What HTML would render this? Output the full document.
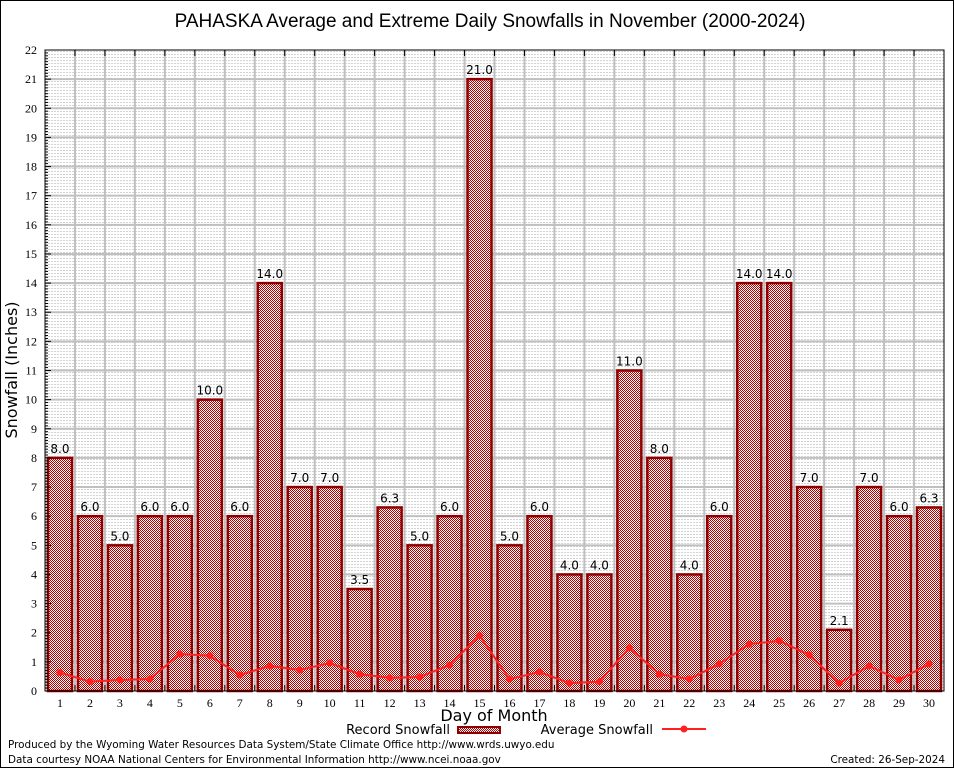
<!DOCTYPE html>
<html><head><meta charset="utf-8"><style>
body{margin:0;background:#fff;}
svg{display:block;font-family:"DejaVu Sans","Liberation Sans",sans-serif;}
</style></head><body>
<svg id="chart" width="954" height="768" viewBox="0 0 954 768">
<defs>
<pattern id="dots" width="3" height="3" patternUnits="userSpaceOnUse"><rect width="3" height="3" fill="#fff"/><rect width="2" height="1" fill="#d4d4d4" shape-rendering="crispEdges"/></pattern>
<pattern id="check" width="2" height="2" patternUnits="userSpaceOnUse"><rect width="2" height="2" fill="#fff"/><rect width="1" height="1" fill="#b00000" shape-rendering="crispEdges"/><rect x="1" y="1" width="1" height="1" fill="#b00000" shape-rendering="crispEdges"/></pattern>
</defs>
<rect x="0.5" y="0.5" width="953" height="767" fill="#fff" stroke="#000"/>
<text x="490" y="27" font-size="19" text-anchor="middle" font-family="Liberation Sans,sans-serif">PAHASKA Average and Extreme Daily Snowfalls in November (2000-2024)</text>
<rect x="45" y="50" width="899" height="641" fill="url(#dots)"/>
<g id="grid"></g>
<g id="bars"></g>
<g id="line"></g>
<g id="axes"></g>
<text x="17" y="370" font-size="16" text-anchor="middle" transform="rotate(-90 17 370)">Snowfall (Inches)</text>
<text x="494" y="721" font-size="16" text-anchor="middle">Day of Month</text>
<g>
<text x="450" y="734" font-size="13" text-anchor="end">Record Snowfall</text>
<rect x="458" y="727" width="42" height="6" fill="url(#check)" stroke="#900000" stroke-width="2"/>
</g>
<g>
<text x="653" y="734" font-size="13" text-anchor="end">Average Snowfall</text>
<line x1="662" y1="729" x2="706" y2="729" stroke="#ff2020" stroke-width="2"/>
<circle cx="684" cy="729" r="3.5" fill="#ff2020"/>
</g>
<text x="8" y="748" font-size="10.4">Produced by the Wyoming Water Resources Data System/State Climate Office http://www.wrds.uwyo.edu</text>
<text x="8" y="763" font-size="10.4">Data courtesy NOAA National Centers for Environmental Information http://www.ncei.noaa.gov</text>
<text x="945" y="763" font-size="10.4" text-anchor="end">Created: 26-Sep-2024</text>
</svg>
<script>
const days=[1,2,3,4,5,6,7,8,9,10,11,12,13,14,15,16,17,18,19,20,21,22,23,24,25,26,27,28,29,30];
const recordValues=[8.0,6.0,5.0,6.0,6.0,10.0,6.0,14.0,7.0,7.0,3.5,6.3,5.0,6.0,21.0,5.0,6.0,4.0,4.0,11.0,8.0,4.0,6.0,14.0,14.0,7.0,2.1,7.0,6.0,6.3];
const averageValues=[0.63,0.32,0.38,0.41,1.27,1.21,0.55,0.86,0.72,0.96,0.58,0.45,0.48,0.89,1.9,0.41,0.65,0.27,0.32,1.48,0.58,0.41,0.93,1.61,1.72,1.24,0.27,0.86,0.38,0.93];
const yTicks=[0,1,2,3,4,5,6,7,8,9,10,11,12,13,14,15,16,17,18,19,20,21,22];
const NS="http://www.w3.org/2000/svg";
const L=45,R=944,T=50,B=691,YMAX=22;
const slot=(R-L)/days.length;
const x=d=>L+slot*(d-0.5);
const y=v=>B-(v/YMAX)*(B-T);
function mk(tag,attrs,parent,txt){const e=document.createElementNS(NS,tag);for(const k in attrs)e.setAttribute(k,attrs[k]);if(txt!==undefined)e.textContent=txt;parent.appendChild(e);return e;}
const grid=document.getElementById('grid'),bars=document.getElementById('bars'),line=document.getElementById('line'),axes=document.getElementById('axes');
yTicks.forEach(t=>{
  if(t>0&&t<YMAX){const g=mk('line',{x1:L,x2:R,y1:y(t),y2:y(t),stroke:'#c0c0c0','stroke-width':2},grid);
  
  }
  const lb=mk('text',{x:L-8,y:y(t)+4,'font-size':12,'text-anchor':'end','font-family':'Liberation Serif,serif'},axes,String(t));
  
  
  mk('line',{x1:L,x2:L+6,y1:y(t),y2:y(t),stroke:'#000'},axes);
  if(t<YMAX){for(let m=1;m<10;m++){mk('line',{x1:L,x2:L+3,y1:y(t+m/10),y2:y(t+m/10),stroke:'#000'},axes);}}
});
for(let i=1;i<days.length;i++){
  const gx=L+slot*i;
  const g=mk('line',{x1:gx,x2:gx,y1:T,y2:B,stroke:'#c0c0c0','stroke-width':2},grid);
  
  
  mk('line',{x1:gx,x2:gx,y1:T,y2:T+6,stroke:'#000'},axes);
  mk('line',{x1:gx,x2:gx,y1:B,y2:B-6,stroke:'#000'},axes);
}
days.forEach((d,i)=>{
  const v=recordValues[i],bw=24;
  const r=mk('rect',{x:x(d)-bw/2,y:y(v),width:bw,height:B-y(v),fill:'url(#check)',stroke:'#900000','stroke-width':2.5},bars);
  
  
  const t=mk('text',{x:x(d),y:y(v)-5,'font-size':12,'text-anchor':'middle'},bars,v.toFixed(1));
  
  
  const xl=mk('text',{x:x(d),y:B+16,'font-size':12,'text-anchor':'middle','font-family':'Liberation Serif,serif'},axes,String(d));
  
  
});
const pts=days.map((d,i)=>x(d)+','+y(averageValues[i])).join(' ');
const pl=mk('polyline',{points:pts,fill:'none',stroke:'#ff2020','stroke-width':2},line);


days.forEach((d,i)=>{
  const c=mk('circle',{cx:x(d),cy:y(averageValues[i]),r:3.5,fill:'#ff2020'},line);
  
  
});
mk('rect',{x:L,y:T,width:R-L,height:B-T,fill:'none',stroke:'#000','stroke-width':1},axes);
</script>
</body></html>
